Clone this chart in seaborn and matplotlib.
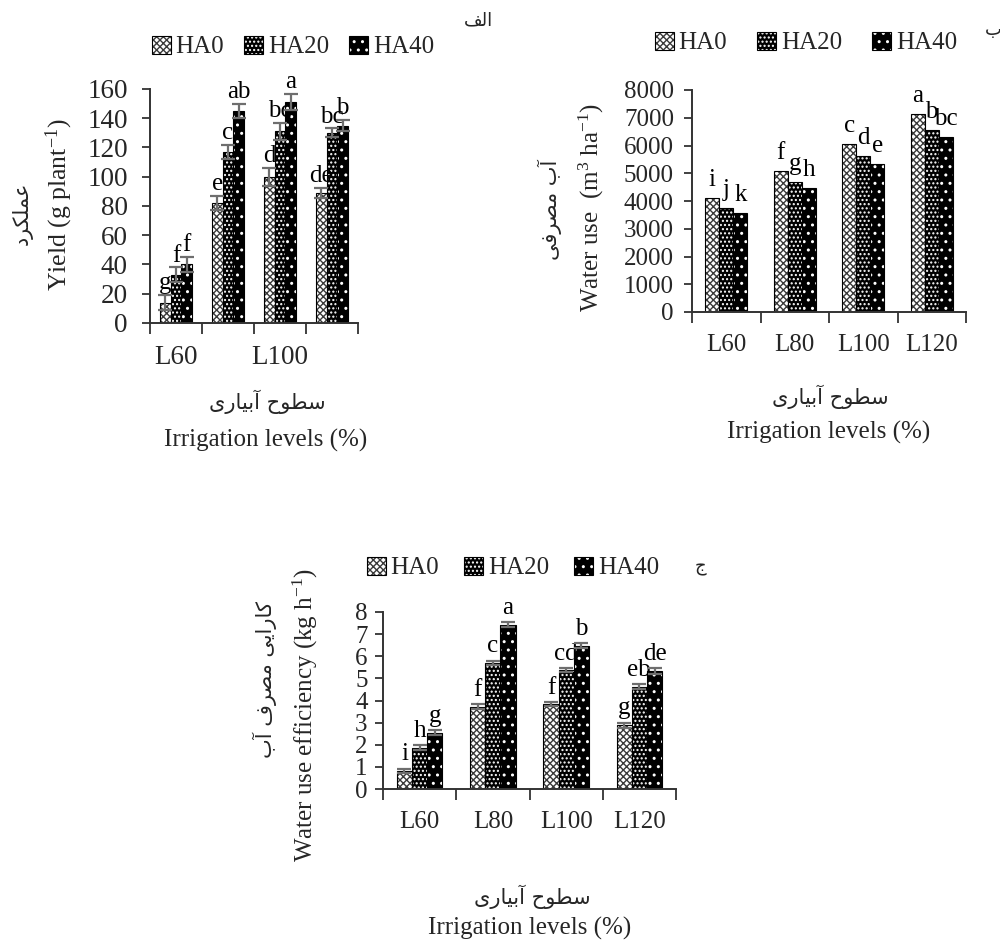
import matplotlib
matplotlib.use('Agg')
import matplotlib.pyplot as plt
import seaborn as sns
import pandas as pd
from matplotlib.colors import to_rgba
from matplotlib.patches import Patch

# ---------------- data ----------------
levels = ['L60', 'L80', 'L100', 'L120']
treatments = ['HA0', 'HA20', 'HA40']

yield_ha0 = [14, 82, 100, 89]
yield_ha20 = [33, 117, 131, 130]
yield_ha40 = [40, 145, 151, 135]
yield_err_ha0 = [5, 5, 6, 3.5]
yield_err_ha20 = [5, 5, 6, 3]
yield_err_ha40 = [5, 5, 5.5, 4]
yield_letters_ha0 = ['g', 'e', 'd', 'de']
yield_letters_ha20 = ['f', 'c', 'bc', 'bc']
yield_letters_ha40 = ['f', 'ab', 'a', 'b']
yield_ticklabels = ['L60', '', 'L100', '']

water_ha0 = [4100, 5080, 6050, 7120]
water_ha20 = [3740, 4700, 5630, 6560]
water_ha40 = [3580, 4460, 5330, 6320]
water_letters_ha0 = ['i', 'f', 'c', 'a']
water_letters_ha20 = ['j', 'g', 'd', 'b']
water_letters_ha40 = ['k', 'h', 'e', 'bc']

wue_ha0 = [0.82, 3.72, 3.84, 2.88]
wue_ha20 = [1.87, 5.70, 5.37, 4.62]
wue_ha40 = [2.55, 7.43, 6.48, 5.33]
wue_err_ha0 = [0.1, 0.1, 0.1, 0.12]
wue_err_ha20 = [0.1, 0.1, 0.1, 0.12]
wue_err_ha40 = [0.1, 0.1, 0.1, 0.12]
wue_letters_ha0 = ['i', 'f', 'f', 'g']
wue_letters_ha20 = ['h', 'c', 'cd', 'eb']
wue_letters_ha40 = ['g', 'a', 'b', 'de']


def vis(s):
    # Persian text written with Arabic presentation forms, put in visual order
    return s[::-1]

fa_yield = vis('\uFECB\uFEE4\uFEE0\uFB91\uFEAE\uFEA9')                       # عملکرد
fa_water = vis('\uFE81\uFE8F \uFEE3\uFEBC\uFEAE\uFED3\uFBFD')                # آب مصرفی
fa_wue = vis('\uFB90\uFE8E\uFEAD\uFE8D\uFBFE\uFBFD \uFEE3\uFEBC\uFEAE\uFED1 \uFE81\uFE8F')  # کارایی مصرف آب
fa_irr = vis('\uFEB3\uFEC4\uFEEE\uFEA1 \uFE81\uFE91\uFBFF\uFE8E\uFEAD\uFBFC')  # سطوح آبیاری
fa_alef = vis('\uFE8D\uFEDF\uFED2')   # الف
fa_be = '\uFE8F'                      # ب
fa_jim = '\uFE9D'                     # ج

# ---------------- style ----------------
sns.set_theme(style='white')
plt.rcParams['font.family'] = ['Liberation Serif', 'DejaVu Sans']
plt.rcParams['mathtext.fontset'] = 'custom'
plt.rcParams['mathtext.rm'] = 'Liberation Serif'
plt.rcParams['mathtext.it'] = 'Liberation Serif:italic'
plt.rcParams['hatch.linewidth'] = 1.0

styles = {
    'HA0': dict(face='white', hatch='xxxxx', hcol='#3a3a3a'),
    'HA20': dict(face='black', hatch='....', hcol='white'),
    'HA40': dict(face='black', hatch='..', hcol='white'),
}


def set_hcol(p, c):
    try:
        p.set_hatchcolor(c)
    except AttributeError:
        p._hatch_color = to_rgba(c)


fig = plt.figure(figsize=(10, 9.44), dpi=100)


def fx(x):
    return x / 1000.0


def fy(y):
    return 1 - y / 944.0


def axes_px(l, r, b, t):
    return fig.add_axes([fx(l), fy(b), fx(r) - fx(l), fy(t) - fy(b)])


def panel(ax, vals, errs, letters, ymax, ystep, lpad, ticklabels, ypad,
          ticksize=18):
    df = pd.DataFrame({
        'level': levels * 3,
        'treatment': [t for t in treatments for _ in levels],
        'value': vals[0] + vals[1] + vals[2],
    })
    sns.barplot(data=df, x='level', y='value', hue='treatment', order=levels,
                hue_order=treatments, width=0.62, errorbar=None, ax=ax,
                legend=False, saturation=1)
    bar_conts = list(ax.containers)
    for t, cont in zip(treatments, bar_conts):
        st = styles[t]
        for p in cont:
            p.set_facecolor(st['face'])
            p.set_edgecolor('black')
            p.set_linewidth(0.8)
            p.set_hatch(st['hatch'])
            set_hcol(p, st['hcol'])
    for i, cont in enumerate(bar_conts):
        xs = [p.get_x() + p.get_width() / 2 for p in cont]
        hs = [p.get_height() for p in cont]
        es = errs[i] if errs is not None else [0] * len(hs)
        if errs is not None:
            ax.errorbar(xs, hs, yerr=es, fmt='none', ecolor='#6e6e6e',
                        elinewidth=1.6, capsize=5, capthick=1.6, zorder=5)
        for x, h, e, lab in zip(xs, hs, es, letters[i]):
            ax.text(x, h + e + lpad, lab, ha='center', va='bottom',
                    fontsize=18, color='black')
    ax.set_xlim(-0.5, 3.5)
    ax.set_ylim(0, ymax)
    ax.set_yticks(range(0, ymax + 1, ystep))
    ax.set_xticks(range(4))
    ax.set_xticklabels(ticklabels)
    ax.set_xticks([-0.5, 0.5, 1.5, 2.5, 3.5], minor=True)
    ax.tick_params(axis='x', which='major', length=0, pad=16,
                   labelsize=ticksize)
    ax.tick_params(axis='x', which='minor', length=8, width=1.3,
                   direction='out', color='#333333', bottom=True)
    ax.tick_params(axis='y', length=6, width=1.3, direction='out',
                   color='#333333', pad=ypad, labelsize=ticksize, left=True)
    ax.set_xlabel('')
    ax.set_ylabel('')
    for s in ['top', 'right']:
        ax.spines[s].set_visible(False)
    for s in ['left', 'bottom']:
        ax.spines[s].set_color('#333333')
        ax.spines[s].set_linewidth(1.4)
    ax.set_facecolor('none')
    ax.grid(False)


def legend_at(x, y, fs, colsp):
    handles = [Patch(facecolor=styles[t]['face'], edgecolor='black',
                     hatch=styles[t]['hatch'], linewidth=0.8) for t in treatments]
    leg = fig.legend(handles, treatments, loc='center',
                     bbox_to_anchor=(fx(x), fy(y)), ncol=3, frameon=False,
                     fontsize=fs, handlelength=0.75, handleheight=0.75,
                     handletextpad=0.2, columnspacing=colsp, borderaxespad=0)
    for t, p in zip(treatments, leg.get_patches()):
        set_hcol(p, styles[t]['hcol'])


# ---------------- panel a: yield ----------------
ax1 = axes_px(150, 358, 323, 89)
panel(ax1, [yield_ha0, yield_ha20, yield_ha40],
      [yield_err_ha0, yield_err_ha20, yield_err_ha40],
      [yield_letters_ha0, yield_letters_ha20, yield_letters_ha40],
      160, 20, 0.5, yield_ticklabels, 10, ticksize=19.5)
legend_at(293, 47, 18, 0.8)
fig.text(fx(59), fy(205), 'Yield (g plant$^{-1}$)', rotation=90,
         ha='center', va='center', fontsize=18.5)
fig.text(fx(22), fy(213), fa_yield, rotation=90, ha='center', va='center',
         fontsize=15, family=['DejaVu Sans'])
fig.text(fx(267), fy(402), fa_irr, ha='center', va='center', fontsize=15,
         family=['DejaVu Sans'])
fig.text(fx(266), fy(440), 'Irrigation levels (%)', ha='center',
         va='center', fontsize=18)
fig.text(fx(478), fy(20), fa_alef, ha='center', va='center', fontsize=13,
         family=['DejaVu Sans'])

# ---------------- panel b: water use ----------------
ax2 = axes_px(692, 966, 312, 90)
panel(ax2, [water_ha0, water_ha20, water_ha40], None,
      [water_letters_ha0, water_letters_ha20, water_letters_ha40],
      8000, 1000, 250, levels, 7)
legend_at(806, 43, 18, 1.2)
fig.text(fx(591), fy(208), 'Water use  (m$^{3}$ ha$^{-1}$)', rotation=90,
         ha='center', va='center', fontsize=18)
fig.text(fx(550), fy(210), fa_water, rotation=90, ha='center', va='center',
         fontsize=15, family=['DejaVu Sans'])
fig.text(fx(830), fy(397), fa_irr, ha='center', va='center', fontsize=15,
         family=['DejaVu Sans'])
fig.text(fx(829), fy(432), 'Irrigation levels (%)', ha='center',
         va='center', fontsize=18)
fig.text(fx(993), fy(30), fa_be, ha='center', va='center', fontsize=13,
         family=['DejaVu Sans'])

# ---------------- panel c: water use efficiency ----------------
ax3 = axes_px(383, 676, 789, 612)
panel(ax3, [wue_ha0, wue_ha20, wue_ha40],
      [wue_err_ha0, wue_err_ha20, wue_err_ha40],
      [wue_letters_ha0, wue_letters_ha20, wue_letters_ha40],
      8, 1, 0.15, levels, 5)
legend_at(513, 568, 18, 1.0)
fig.text(fx(305), fy(715), 'Water use efficiency (kg h$^{-1}$)', rotation=90,
         ha='center', va='center', fontsize=18)
fig.text(fx(265), fy(680), fa_wue, rotation=90, ha='center', va='center',
         fontsize=15, family=['DejaVu Sans'])
fig.text(fx(532), fy(897), fa_irr, ha='center', va='center', fontsize=15,
         family=['DejaVu Sans'])
fig.text(fx(530), fy(928), 'Irrigation levels (%)', ha='center',
         va='center', fontsize=18)
fig.text(fx(700), fy(567), fa_jim, ha='center', va='center', fontsize=13,
         family=['DejaVu Sans'])

fig.savefig('out.png', dpi=100, facecolor='white')
